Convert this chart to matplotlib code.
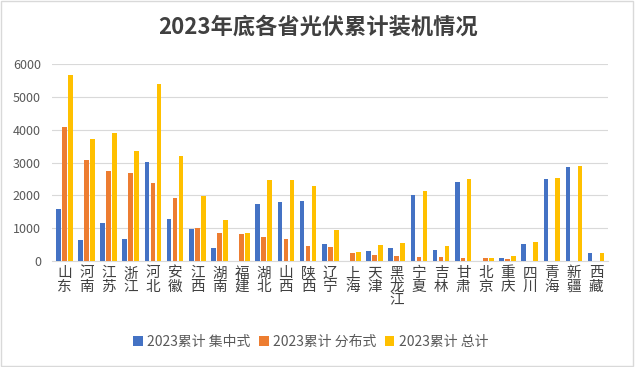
import numpy as np
import matplotlib.pyplot as plt

plt.rcParams['font.family'] = ['Noto Sans CJK SC', 'DejaVu Sans']

provinces = ['山东', '河南', '江苏', '浙江', '河北', '安徽', '江西', '湖南', '福建', '湖北',
             '山西', '陕西', '辽宁', '上海', '天津', '黑龙江', '宁夏', '吉林', '甘肃', '北京',
             '重庆', '四川', '青海', '新疆', '西藏']
centralized = [1580, 630, 1150, 660, 3010, 1270, 970, 390, 0, 1730,
               1790, 1820, 510, 0, 295, 385, 2010, 325, 2400, 0,
               80, 510, 2505, 2860, 235]
distributed = [4080, 3075, 2740, 2670, 2370, 1915, 990, 845, 815, 725,
               660, 450, 420, 235, 175, 145, 110, 110, 80, 80,
               50, 0, 0, 0, 0]
total = [5670, 3730, 3900, 3350, 5400, 3200, 1985, 1240, 855, 2465,
         2465, 2280, 935, 265, 480, 540, 2130, 450, 2505, 80,
         140, 570, 2535, 2900, 235]

series = [('2023累计 集中式', centralized, '#4472C4'),
          ('2023累计 分布式', distributed, '#ED7D31'),
          ('2023累计 总计', total, '#FFC000')]

fig = plt.figure(figsize=(6.35, 3.67), dpi=100)
ax = fig.add_axes([0.082, 0.289, 0.876, 0.536])

x = np.arange(len(provinces))
for i, (name, vals, col) in enumerate(series):
    ax.bar(x + (i - 1) * 0.27, vals, width=0.21, color=col, label=name, zorder=3)

ax.set_xlim(-0.55, len(provinces) - 0.45)
ax.set_ylim(0, 6000)
ax.set_yticks(range(0, 6001, 1000))
ax.grid(axis='y', color='#D9D9D9', linewidth=0.8, zorder=0)
for s in ['top', 'right', 'left']:
    ax.spines[s].set_visible(False)
ax.spines['bottom'].set_color('#D9D9D9')
ax.tick_params(axis='y', length=0, labelsize=9, labelcolor='#595959', pad=8)
ax.tick_params(axis='x', length=0, pad=4)
ax.set_xticks(x)
ax.set_xticklabels(['\n'.join(p) for p in provinces], fontsize=10.5,
                   color='#404040', linespacing=0.95, va='top')

fig.text(0.5, 0.925, '2023年底各省光伏累计装机情况', ha='center', va='center',
         fontsize=16, fontweight='bold', color='#404040')

ax.legend(loc='center', bbox_to_anchor=(0.465, -0.41), ncol=3, frameon=False,
          fontsize=10, handlelength=0.7, handleheight=0.7, handletextpad=0.3,
          columnspacing=0.6, labelcolor='#595959')

fig.patches.append(plt.Rectangle((0.002, 0.003), 0.995, 0.994, transform=fig.transFigure,
                                 fill=False, edgecolor='#D9D9D9', linewidth=1))

fig.savefig('out.png', dpi=100)
